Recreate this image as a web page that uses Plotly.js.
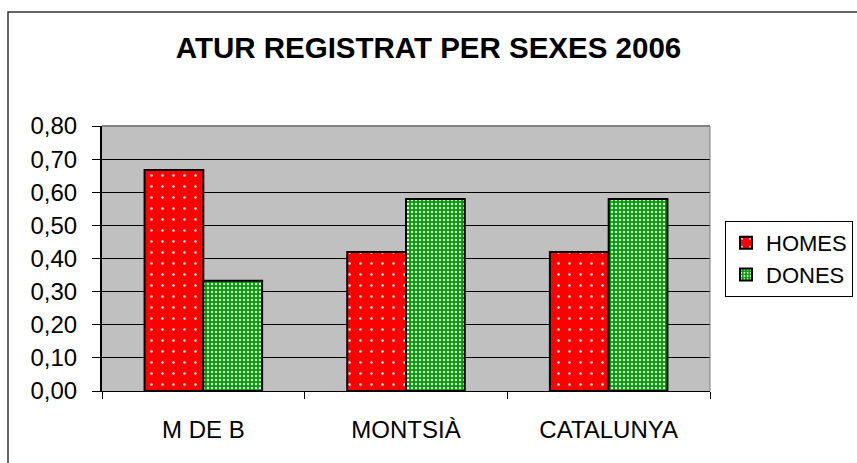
<!DOCTYPE html>
<html>
<head>
<meta charset="utf-8">
<script src="https://cdn.plot.ly/plotly-3.0.1.min.js"></script>
<style>html,body{margin:0;padding:0;background:#fff;}#chart{width:857px;height:463px;}</style>
</head>
<body>
<div id="chart"></div>
<script>
const categories = ["M DE B", "MONTSIÀ", "CATALUNYA"];
const homes = [0.667, 0.42, 0.42];
const dones = [0.333, 0.58, 0.58];
const seriesNames = ["HOMES", "DONES"];
const yTicks = [0, 0.1, 0.2, 0.3, 0.4, 0.5, 0.6, 0.7, 0.8];

const traces = [
  {
    type: "bar", name: seriesNames[0], x: categories, y: homes,
    marker: {
      color: "#FF0000",
      line: {color: "#000000", width: 2},
      pattern: {shape: ".", bgcolor: "#FF0000", fgcolor: "#FFFFFF", size: 11, solidity: 0.04, fillmode: "replace"}
    },
    hoverinfo: "none"
  },
  {
    type: "bar", name: seriesNames[1], x: categories, y: dones,
    marker: {
      color: "#009900",
      line: {color: "#000000", width: 2},
      pattern: {shape: ".", bgcolor: "#009900", fgcolor: "#E0FFE0", size: 4, solidity: 0.3, fillmode: "replace"}
    },
    hoverinfo: "none"
  }
];

const layout = {
  width: 857, height: 463,
  margin: {l: 102, r: 147, t: 126, b: 72, pad: 0},
  paper_bgcolor: "#FFFFFF",
  plot_bgcolor: "#C0C0C0",
  font: {family: "Liberation Sans, Arial, sans-serif", size: 24, color: "#000000"},
  title: {
    text: "<b>ATUR REGISTRAT PER SEXES 2006</b>",
    font: {family: "Liberation Sans, Arial, sans-serif", size: 29.5, color: "#000000"},
    x: 0.5, xref: "container", xanchor: "center",
    y: 1 - 48 / 463, yref: "container", yanchor: "middle"
  },
  separators: ",.",
  barmode: "group",
  bargap: 0.42,
  bargroupgap: 0,
  showlegend: true,
  legend: {
    xref: "container", yref: "container",
    x: 853 / 857, xanchor: "right", y: 1 - 221 / 463, yanchor: "top",
    bgcolor: "#FFFFFF", bordercolor: "#000000", borderwidth: 1,
    font: {family: "Liberation Sans, Arial, sans-serif", size: 22, color: "#000000"},
    itemwidth: 30, tracegroupgap: 0
  },
  xaxis: {
    type: "category",
    tickson: "boundaries",
    ticks: "outside", ticklen: 7, tickcolor: "#000000", tickwidth: 1,
    showline: true, linecolor: "#000000", linewidth: 1,
    showgrid: false, zeroline: false,
    ticklabelstandoff: 17,
    tickfont: {size: 24}
  },
  yaxis: {
    range: [0, 0.8],
    tickvals: yTicks,
    tickformat: ".2f",
    ticks: "outside", ticklen: 8, tickcolor: "#000000", tickwidth: 1,
    showline: true, linecolor: "#000000", linewidth: 2,
    showgrid: true, gridcolor: "#000000", gridwidth: 1,
    zeroline: false,
    ticklabelstandoff: 10,
    tickfont: {size: 24}
  },
  shapes: [
    {type: "line", xref: "paper", yref: "paper", x0: 0, x1: 1, y0: 1, y1: 1, line: {color: "#808080", width: 2}},
    {type: "line", xref: "paper", yref: "paper", x0: 1, x1: 1, y0: 0, y1: 1, line: {color: "#808080", width: 1}},
    {type: "rect", xref: "paper", yref: "paper", x0: -0.1546, x1: 1.3, y0: -0.4, y1: 1.430, line: {color: "#333333", width: 1.5}, fillcolor: "rgba(0,0,0,0)"}
  ]
};

Plotly.newPlot("chart", traces, layout, {displayModeBar: false, staticPlot: true});
</script>
</body>
</html>
